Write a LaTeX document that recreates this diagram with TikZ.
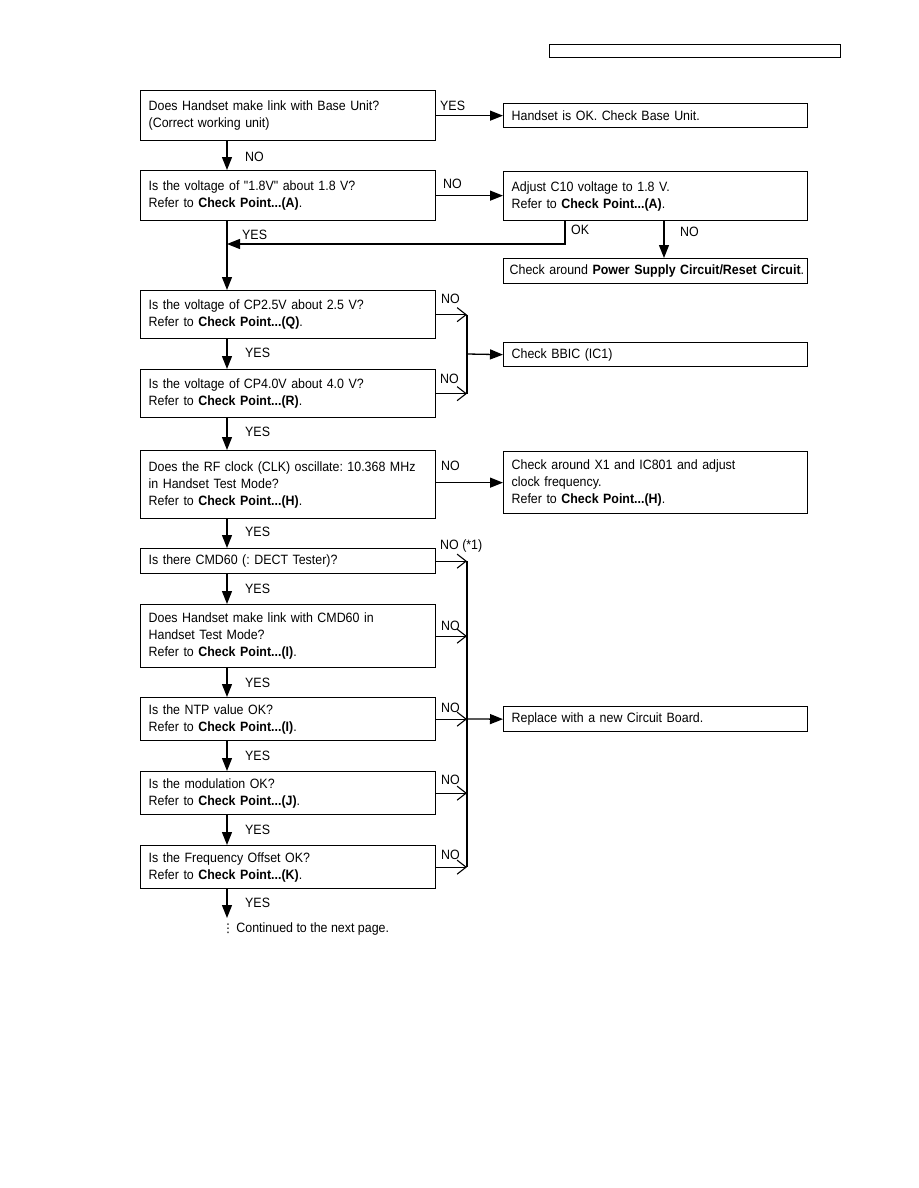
\documentclass[tikz,border=0pt]{standalone}
\usepackage{fontspec}
\setmainfont{Liberation Sans}[Ligatures=TeXOff,FakeStretch=0.92]
\newfontfamily\dotsfont{DejaVu Sans}
\usetikzlibrary{
  arrows.meta,
  positioning
}
\frenchspacing
\newcommand{\fsz}{\fontsize{13.5}{17}\selectfont}
\newcommand{\cp}[1]{\textbf{Check Point...(#1)}}
\tikzset{
  qbox/.style={draw,line width=1.3pt,anchor=north west,minimum width=295pt,
    text width=279pt,inner xsep=8pt,inner ysep=0pt,align=left,font=\fsz},
  rbox/.style={qbox,minimum width=304pt,text width=288pt},
  arr/.style={line width=1.3pt,-{Triangle[length=13pt,width=10pt]}},
  barb/.style={line width=1.1pt,-{Straight Barb[length=9pt,width=14pt]}},
  lbl/.style={font=\fsz,inner sep=0pt,anchor=west}
}

\begin{document}
\begin{tikzpicture}[x=1pt,y=-1pt]
  \useasboundingbox (0,0) rectangle (918,1188);
  \node[draw,line width=1.3pt,anchor=north west,minimum width=291pt,minimum height=13pt,inner sep=0pt] (hdr) at (549,44) {};

  % left column
  \node[qbox,minimum height=50pt] (b1) at (140,90) {Does Handset make link with Base Unit?\\(Correct working unit)};
  \node[qbox,minimum height=50pt] (b2) at (140,170) {Is the voltage of "1.8V" about 1.8 V?\\Refer to \cp{A}.};
  \node[qbox,minimum height=48pt] (b3) at (140,290) {Is the voltage of CP2.5V about 2.5 V?\\Refer to \cp{Q}.};
  \node[qbox,minimum height=48pt] (b4) at (140,369) {Is the voltage of CP4.0V about 4.0 V?\\Refer to \cp{R}.};
  \node[qbox,minimum height=68pt] (b5) at (140,450) {Does the RF clock (CLK) oscillate: 10.368 MHz\\in Handset Test Mode?\\Refer to \cp{H}.};
  \node[qbox,minimum height=25pt] (b6) at (140,548) {Is there CMD60 (: DECT Tester)?};
  \node[qbox,minimum height=63pt] (b7) at (140,604) {Does Handset make link with CMD60 in\\Handset Test Mode?\\Refer to \cp{I}.};
  \node[qbox,minimum height=43pt] (b8) at (140,697) {Is the NTP value OK?\\Refer to \cp{I}.};
  \node[qbox,minimum height=43pt] (b9) at (140,771) {Is the modulation OK?\\Refer to \cp{J}.};
  \node[qbox,minimum height=43pt] (b10) at (140,845) {Is the Frequency Offset OK?\\Refer to \cp{K}.};

  % right column
  \node[rbox,minimum height=24pt] (r1) at (503,103) {Handset is OK. Check Base Unit.};
  \node[rbox,minimum height=49pt] (r2) at (503,171) {Adjust C10 voltage to 1.8 V.\\Refer to \cp{A}.};
  \node[rbox,minimum height=25pt,inner xsep=6pt,text width=292pt] (r3) at (503,258) {\mbox{Check around \textbf{Power Supply Circuit/Reset Circuit}.}};
  \node[rbox,minimum height=24pt] (r4) at (503,342) {Check BBIC (IC1)};
  \node[rbox,minimum height=62pt] (r5) at (503,451) {Check around X1 and IC801 and adjust\\clock frequency.\\Refer to \cp{H}.};
  \node[rbox,minimum height=25pt] (r6) at (503,706) {Replace with a new Circuit Board.};

  \coordinate (j1) at (227,244);
  \coordinate (m1) at (467,354);
  \coordinate (m2) at (467,719);
  \coordinate (stop) at (227,918);

  % main line
  \foreach \a/\b in {b1/b2,b2/b3,b3/b4,b4/b5,b5/b6,b6/b7,b7/b8,b8/b9,b9/b10}
    \draw[arr] ([xshift=87pt]\a.south west) -- ([xshift=87pt]\b.north west);
  \draw[arr] ([xshift=87pt]b10.south west) -- (stop);

  % side branches
  \draw[arr] (b1.east |- r1) -- (r1.west);
  \draw[arr] (b2.east) -- (r2.west |- b2.east);
  \draw[arr] ([xshift=62pt]r2.south west) |- (j1);
  \draw[arr] ([xshift=161pt]r2.south west) -- ([xshift=161pt]r3.north west);
  \draw[arr] (b5.east |- r5) -- (r5.west);

  \foreach \b in {b3,b4}
    \draw[barb] (\b.east) -- (\b.east -| m1);
  \draw[line width=1.1pt] (b3.east -| m1) -- (b4.east -| m1);
  \draw[arr] (m1) -- (r4.west);

  \foreach \b in {b6,b7,b8,b9,b10}
    \draw[barb] (\b.east) -- (\b.east -| m2);
  \draw[line width=1.1pt] (b6.east -| m2) -- (b10.east -| m2);
  \draw[arr] (m2) -- (r6.west);

  % labels
  \node[lbl] (l1) at (440,106) {YES};
  \node[lbl] (l2) at (245,157) {NO};
  \node[lbl] (l3) at (443,184) {NO};
  \node[lbl] (l4) at (571,230) {OK};
  \node[lbl] (l5) at (680,232) {NO};
  \node[lbl] (l6) at (242,235) {YES};
  \node[lbl] (l7) at (441,299) {NO};
  \node[lbl] (l8) at (245,353) {YES};
  \node[lbl] (l9) at (440,379) {NO};
  \node[lbl] (l10) at (245,432) {YES};
  \node[lbl] (l11) at (441,466) {NO};
  \node[lbl] (l12) at (245,532) {YES};
  \node[lbl] (l13) at (440,546) {NO (*1)};
  \node[lbl] (l14) at (245,589) {YES};
  \node[lbl] (l15) at (441,626) {NO};
  \node[lbl] (l16) at (245,683) {YES};
  \node[lbl] (l17) at (441,708) {NO};
  \node[lbl] (l18) at (245,756) {YES};
  \node[lbl] (l19) at (441,780) {NO};
  \node[lbl] (l20) at (245,830) {YES};
  \node[lbl] (l21) at (441,855) {NO};
  \node[lbl] (l22) at (245,903) {YES};
  \node[lbl] (cont) at (222,929) {{\dotsfont\fontsize{12}{12}\selectfont ⋮}\,Continued to the next page.};
\end{tikzpicture}
\end{document}
